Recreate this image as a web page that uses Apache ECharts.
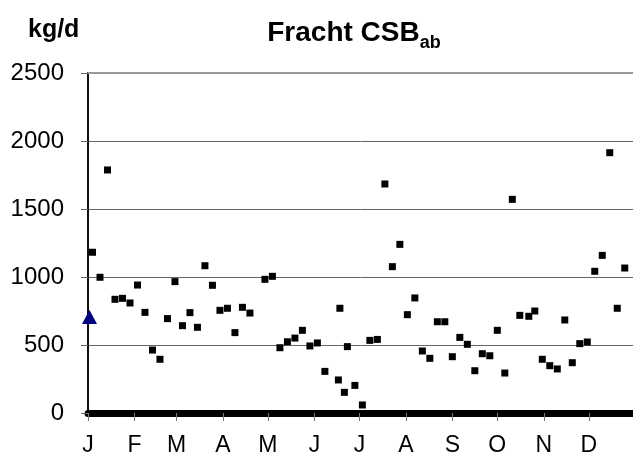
<!DOCTYPE html>
<html>
<head>
<meta charset="utf-8">
<script src="https://cdn.jsdelivr.net/npm/echarts@6/dist/echarts.min.js"></script>
<style>
html,body{margin:0;padding:0;background:#fff;}
#chart{width:633px;height:459px;}
</style>
</head>
<body>
<div id="chart"></div>
<script>
// Month tick positions (day of year) and labels
var monthStarts = [0, 31, 59, 90, 120, 151, 181, 212, 243, 273, 304, 334];
var monthLabels = ['J', 'F', 'M', 'A', 'M', 'J', 'J', 'A', 'S', 'O', 'N', 'D'];
var yTicks = [0, 500, 1000, 1500, 2000, 2500];

// Daily load CSB outflow (kg/d), day of year
var sampleDays = [3, 8, 13, 18, 23, 28, 33, 38, 43, 48, 53, 58, 63, 68, 73, 78, 83, 88, 93, 98,
  103, 108, 118, 123, 128, 133, 138, 143, 148, 153, 158, 167, 168, 171, 173, 178, 183, 188, 193, 198,
  203, 208, 213, 218, 223, 228, 233, 238, 243, 248, 253, 258, 263, 268, 273, 278, 283, 288, 294, 298,
  303, 308, 313, 318, 323, 328, 333, 338, 343, 348, 353, 358];
var csbLoad = [1182, 998, 1787, 836, 843, 809, 941, 740, 463, 395, 694, 966, 642, 738, 630, 1083, 939, 755, 770, 591,
  777, 735, 983, 1005, 480, 524, 551, 608, 493, 515, 306, 243, 770, 152, 488, 203, 59, 534, 541, 1684,
  1076, 1240, 723, 846, 456, 402, 671, 671, 414, 556, 505, 311, 436, 421, 608, 294, 1571, 718, 711, 750,
  395, 348, 324, 684, 370, 510, 522, 1042, 1159, 1914, 770, 1066];

// Single reference value (blue triangle)
var refDays = [1];
var refValues = [705];

var chart = echarts.init(document.getElementById('chart'), null, {renderer: 'canvas'});

var option = {
  animation: false,
  backgroundColor: '#fff',
  grid: {left: 88, right: 0, top: 73, bottom: 46, containLabel: false},
  graphic: [
    {
      type: 'text',
      left: 28, top: 18,
      style: {text: 'kg/d', font: 'bold 25px "Liberation Sans", Arial, sans-serif', fill: '#000'}
    },
    {
      type: 'text',
      x: 354, y: 19,
      style: {
        text: '{a|Fracht CSB}{b|ab}',
        align: 'center',
        verticalAlign: 'top',
        fill: '#000',
        rich: {
          a: {fontSize: 28, fontWeight: 'bold', fontFamily: '"Liberation Sans", Arial, sans-serif', lineHeight: 28, verticalAlign: 'top', fill: '#000'},
          b: {fontSize: 18, fontWeight: 'bold', fontFamily: '"Liberation Sans", Arial, sans-serif', lineHeight: 18, padding: [15, 0, 0, 0], verticalAlign: 'top', fill: '#000'}
        }
      }
    }
  ],
  xAxis: {
    type: 'value',
    min: 0,
    max: 363.5,
    axisLine: {show: true, onZero: false, lineStyle: {color: '#000', width: 7}},
    axisTick: {show: true, customValues: monthStarts, length: 8, lineStyle: {color: '#777', width: 1}},
    axisLabel: {
      show: true,
      customValues: monthStarts,
      margin: 21,
      fontSize: 23,
      fontFamily: '"Liberation Sans", Arial, sans-serif',
      color: '#000',
      formatter: function (v) {
        var i = monthStarts.indexOf(Math.round(v));
        return i >= 0 ? monthLabels[i] : '';
      }
    },
    splitLine: {show: false}
  },
  yAxis: {
    type: 'value',
    min: yTicks[0],
    max: yTicks[yTicks.length - 1],
    interval: 500,
    axisLine: {show: true, lineStyle: {color: '#111', width: 2}},
    axisTick: {show: true, length: 7, lineStyle: {color: '#666', width: 1}},
    axisLabel: {
      margin: 24,
      fontSize: 24,
      fontFamily: '"Liberation Sans", Arial, sans-serif',
      color: '#000',
      formatter: function (v) { return String(v); }
    },
    splitLine: {show: true, lineStyle: {color: '#666', width: 1}}
  },
  series: [
    {
      type: 'scatter',
      name: 'CSB ab',
      symbol: 'rect',
      symbolSize: 7,
      itemStyle: {color: '#000', opacity: 1},
      data: sampleDays.map(function (d, i) { return [d, csbLoad[i]]; }),
      markLine: {
        silent: true,
        symbol: 'none',
        label: {show: false},
        lineStyle: {color: '#999', width: 2, type: 'solid'},
        data: [{yAxis: yTicks[yTicks.length - 1]}]
      },
      z: 3
    },
    {
      type: 'scatter',
      name: 'Referenz',
      symbol: 'triangle',
      symbolSize: [15, 14],
      itemStyle: {color: '#000080', opacity: 1},
      data: refDays.map(function (d, i) { return [d, refValues[i]]; }),
      z: 4
    }
  ]
};
chart.setOption(option);
</script>
</body>
</html>
